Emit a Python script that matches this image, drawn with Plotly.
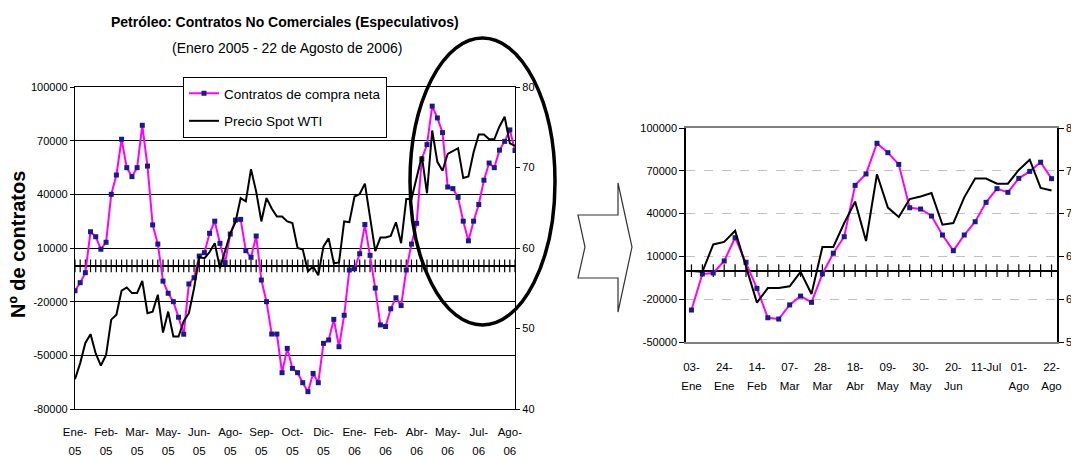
import plotly.graph_objects as go

# ---------------- data ----------------
contratos_2005 = [-13900, -9400, -3800, 19100, 16300, 9300, 13200, 40000, 50800, 70800,
                  54900, 49900, 54900, 78600, 55800, 22900, 12200, -8500, -15300, -20000,
                  -28700, -38200, -10100, -6600, 5500, 7400, 18200, 25000, 12600, 1800,
                  17800, 25600, 26000, 8500, 4800, 16700, -7900, -20000, -38100, -38100,
                  -59700, -46100, -57300, -59700, -65300, -70300, -60100, -65300, -43300, -41400,
                  -29900, -45200]
precio_2005 = [43.7, 45.7, 48.2, 49.3, 46.9, 45.4, 46.7, 51.1, 51.7, 54.7,
               55.1, 54.4, 54.4, 55.9, 51.9, 52.1, 54.2, 49.5, 52.1, 49.0,
               49.0, 50.9, 51.9, 55.0, 58.9, 58.7, 59.5, 60.6, 57.5, 59.8,
               61.8, 63.2, 66.2, 65.8, 69.8, 67.0, 63.3, 66.2, 64.9, 63.9,
               63.9, 63.3, 63.1, 60.0, 59.8, 57.1, 57.7, 56.6, 60.2, 61.2,
               58.1, 58.2]
contratos_2006 = [-27600, -2300, -1600, 6800, 23100, 5900, -12400, -33000, -33900, -24000,
                  -17800, -22200, -2300, 12200, 23800, 59800, 67800, 89300, 82700, 74500,
                  44100, 43200, 38300, 25000, 14000, 25000, 34300, 47900, 57500, 54900,
                  64700, 69600, 76000, 64500]
precio_2006 = [63.3, 63.2, 66.4, 66.7, 68.0, 63.8, 59.6, 61.3, 61.3, 61.5,
               63.2, 60.6, 66.1, 66.1, 68.9, 71.4, 66.8, 74.6, 70.7, 69.6,
               71.7, 72.0, 72.4, 68.7, 68.9, 71.9, 74.1, 74.1, 73.5, 73.5,
               75.1, 76.3, 73.0, 72.7]

# tick labels (two text rows each)
meses_izq = ["Ene-", "Feb-", "Mar-", "May-", "Jun-", "Ago-", "Sep-", "Oct-", "Dic-",
             "Ene-", "Feb-", "Abr-", "May-", "Jul-", "Ago-"]
anios_izq = ["05", "05", "05", "05", "05", "05", "05", "05", "05",
             "06", "06", "06", "06", "06", "06"]
dias_der = ["03-", "24-", "14-", "07-", "28-", "18-", "09-", "30-", "20-", "11-Jul", "01-", "22-"]
meses_der = ["Ene", "Ene", "Feb", "Mar", "Mar", "Abr", "May", "May", "Jun", "", "Ago", "Ago"]
ticks_contratos_izq = [-80000, -50000, -20000, 10000, 40000, 70000, 100000]
ticks_precio_izq = [40, 50, 60, 70, 80]
ticks_contratos_der = [-50000, -20000, 10000, 40000, 70000, 100000]
ticks_precio_der = [55, 60, 65, 70, 75, 80]

contratos = contratos_2005 + contratos_2006
precio = precio_2005 + precio_2006
semanas = list(range(len(contratos)))
semanas_2006 = list(range(len(contratos_2006)))

# ---------------- layout helpers ----------------
W, H = 1079, 457
OFF = 8  # page body margin
def px(x):
    return (x - OFF) / W
def py(y):
    return 1 - (y - OFF) / H

FONT = "Liberation Sans Narrow, Liberation Sans, Arial, sans-serif"
PINK = "#FF00FF"
NAVY = "#1a1a8c"

fig = go.Figure()

# zero-line category ticks (left chart)
fig.add_trace(go.Scatter(x=semanas, y=[0] * len(semanas), mode="markers",
                         marker=dict(symbol="line-ns", size=9, line=dict(color="black", width=1.2)),
                         xaxis="x", yaxis="y", showlegend=False, hoverinfo="skip"))
# carrier for the second label row of the left chart (invisible)
fig.add_trace(go.Scatter(x=semanas, y=contratos, mode="markers",
                         marker=dict(size=1, opacity=0), xaxis="x3", yaxis="y",
                         showlegend=False, hoverinfo="skip"))
fig.add_trace(go.Scatter(x=semanas, y=contratos, mode="lines+markers",
                         name="Contratos de compra neta", legendgroup="a",
                         line=dict(color=PINK, width=2),
                         marker=dict(symbol="square", size=5, color=NAVY),
                         xaxis="x", yaxis="y"))
fig.add_trace(go.Scatter(x=semanas, y=precio, mode="lines", name="Precio Spot WTI",
                         legendgroup="b", line=dict(color="black", width=2),
                         xaxis="x", yaxis="y2"))

# right chart
fig.add_trace(go.Scatter(x=semanas_2006, y=[0] * len(semanas_2006), mode="markers",
                         marker=dict(symbol="line-ns", size=9, line=dict(color="black", width=1.2)),
                         xaxis="x2", yaxis="y3", showlegend=False, hoverinfo="skip"))
fig.add_trace(go.Scatter(x=semanas_2006, y=contratos_2006, mode="markers",
                         marker=dict(size=1, opacity=0), xaxis="x4", yaxis="y3",
                         showlegend=False, hoverinfo="skip"))
fig.add_trace(go.Scatter(x=semanas_2006, y=contratos_2006, mode="lines+markers",
                         line=dict(color=PINK, width=2),
                         marker=dict(symbol="square", size=5, color=NAVY),
                         xaxis="x2", yaxis="y3", showlegend=False))
fig.add_trace(go.Scatter(x=semanas_2006, y=precio_2006, mode="lines",
                         line=dict(color="black", width=2),
                         xaxis="x2", yaxis="y4", showlegend=False))

tickfont = dict(family=FONT, size=11, color="black")
xtickfont = dict(family=FONT, size=11.5, color="black")
INVIS = "rgba(0,0,0,0)"

dom_izq = [px(75), px(515)]
dom_der = [px(686), px(1057)]
rango_izq = [0, len(semanas) - 1]
rango_der = [-0.5, len(semanas_2006) - 0.5]

fig.update_layout(
    width=W, height=H,
    margin=dict(l=0, r=0, t=0, b=0, autoexpand=False),
    paper_bgcolor="white", plot_bgcolor="white",
    font=dict(family=FONT, color="black"),
    # left chart, first label row
    xaxis=dict(domain=dom_izq, range=rango_izq, automargin=False,
               tickmode="array", tickvals=semanas[::6], ticktext=meses_izq,
               ticks="outside", ticklen=12, tickcolor=INVIS,
               showline=True, mirror=True, linecolor="black", linewidth=1.3,
               showgrid=False, zeroline=False, tickfont=xtickfont, anchor="y"),
    # left chart, second label row
    xaxis3=dict(overlaying="x", domain=dom_izq, range=rango_izq, automargin=False,
                tickmode="array", tickvals=semanas[::6], ticktext=anios_izq,
                ticks="outside", ticklen=31, tickcolor=INVIS,
                showline=False, showgrid=False, zeroline=False,
                tickfont=xtickfont, anchor="y"),
    yaxis=dict(domain=[py(409), py(87)], range=[-80000, 100000], automargin=False,
               tickmode="array", tickvals=ticks_contratos_izq,
               ticktext=[str(v) for v in ticks_contratos_izq],
               showgrid=True, gridcolor="black", gridwidth=1.3,
               zeroline=True, zerolinecolor="black", zerolinewidth=1.5,
               showline=True, linecolor="black", linewidth=1.3,
               ticks="outside", ticklen=4, tickcolor="black",
               tickfont=tickfont, anchor="x"),
    yaxis2=dict(overlaying="y", side="right", anchor="x", range=[40, 80], automargin=False,
                tickmode="array", tickvals=ticks_precio_izq,
                ticktext=[str(v) for v in ticks_precio_izq],
                showgrid=False, zeroline=False,
                showline=True, linecolor="black", linewidth=1.3,
                ticks="outside", ticklen=4, tickcolor="black", tickfont=tickfont),
    # right chart, first label row
    xaxis2=dict(domain=dom_der, range=rango_der, automargin=False,
                tickmode="array", tickvals=semanas_2006[::3], ticktext=dias_der,
                ticks="outside", ticklen=13, tickcolor=INVIS,
                showline=True, mirror=True, linecolor="#808080", linewidth=1.5,
                showgrid=False, zeroline=False, tickfont=xtickfont, anchor="y3"),
    # right chart, second label row
    xaxis4=dict(overlaying="x2", domain=dom_der, range=rango_der, automargin=False,
                tickmode="array", tickvals=semanas_2006[::3], ticktext=meses_der,
                ticks="outside", ticklen=33, tickcolor=INVIS,
                showline=False, showgrid=False, zeroline=False,
                tickfont=xtickfont, anchor="y3"),
    yaxis3=dict(domain=[py(342), py(128)], range=[-50000, 100000], automargin=False,
                tickmode="array", tickvals=ticks_contratos_der,
                ticktext=[str(v) for v in ticks_contratos_der],
                showgrid=True, gridcolor="#c0c0c0", gridwidth=1.2, griddash="dash",
                zeroline=True, zerolinecolor="black", zerolinewidth=1.5,
                showline=True, linecolor="black", linewidth=1.5,
                ticks="outside", ticklen=5, tickcolor="black",
                tickfont=tickfont, anchor="x2"),
    yaxis4=dict(overlaying="y3", side="right", anchor="x2", range=[55, 80], automargin=False,
                tickmode="array", tickvals=ticks_precio_der,
                ticktext=[str(v) for v in ticks_precio_der],
                showgrid=False, zeroline=False,
                showline=True, linecolor="black", linewidth=1.5,
                ticks="outside", ticklen=5, tickcolor="black", tickfont=tickfont),
    legend=dict(x=px(183), y=py(77), xanchor="left", yanchor="top",
                bgcolor="white", bordercolor="black", borderwidth=1,
                font=dict(family=FONT, size=13.5, color="black"),
                tracegroupgap=7, itemwidth=30),
)

fig.add_annotation(text="<b>Petróleo: Contratos No Comerciales (Especulativos)</b>",
                   x=px(285), y=py(22), xref="paper", yref="paper", showarrow=False,
                   xanchor="center", yanchor="middle",
                   font=dict(family=FONT, size=14, color="black"))
fig.add_annotation(text="(Enero 2005 - 22 de Agosto de 2006)",
                   x=px(287), y=py(48), xref="paper", yref="paper", showarrow=False,
                   xanchor="center", yanchor="middle",
                   font=dict(family=FONT, size=14, color="black"))
fig.add_annotation(text="<b>Nº de contratos</b>", textangle=-90,
                   x=px(18), y=py(245), xref="paper", yref="paper", showarrow=False,
                   xanchor="center", yanchor="middle",
                   font=dict(family="Liberation Sans, Arial, sans-serif", size=20, color="black"))

# highlight ellipse
fig.add_shape(type="circle", xref="paper", yref="paper",
              x0=px(410), x1=px(555), y0=py(325), y1=py(38),
              line=dict(color="black", width=3.5))

# arrow outline
pts = [(578, 215), (618, 215), (618, 183), (632, 247), (618, 312), (618, 278), (578, 278), (585, 247)]
path = "M " + " L ".join(f"{px(x):.5f},{py(y):.5f}" for x, y in pts) + " Z"
fig.add_shape(type="path", path=path, xref="paper", yref="paper",
              line=dict(color="#333333", width=1.2))

fig.write_html("out.html")
